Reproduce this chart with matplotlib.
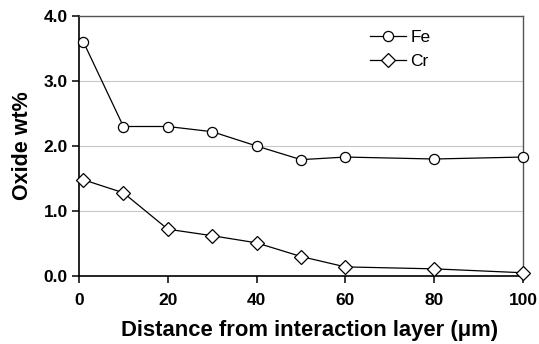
import matplotlib
matplotlib.use("Agg")
import matplotlib.pyplot as plt
from matplotlib.ticker import FormatStrFormatter

plt.rcParams['font.family'] = ['Liberation Sans', 'DejaVu Sans']

# data
distance = [1, 10, 20, 30, 40, 50, 60, 80, 100]
fe_wt = [3.60, 2.30, 2.30, 2.22, 2.00, 1.79, 1.83, 1.80, 1.83]
cr_wt = [1.48, 1.28, 0.72, 0.62, 0.51, 0.30, 0.14, 0.11, 0.05]
x_ticks = [0, 20, 40, 60, 80, 100]
y_ticks = [0.0, 1.0, 2.0, 3.0, 4.0]

fig = plt.figure(figsize=(5.39, 3.44), dpi=100)
ax = fig.add_axes([79/539, 1-276/344, (523-79)/539, (276-16)/344])

ax.plot(distance, fe_wt, color='black', lw=0.9, marker='o', ms=7.3,
        mfc='white', mec='black', mew=0.9, label='Fe', zorder=3,
        clip_on=False)
ax.plot(distance, cr_wt, color='black', lw=0.9, marker='D', ms=7.0,
        mfc='white', mec='black', mew=0.9, label='Cr', zorder=3,
        clip_on=False)

ax.set_xlim(0, 100)
ax.set_ylim(0, 4)
ax.set_xticks(x_ticks)
ax.set_yticks(y_ticks)
ax.yaxis.set_major_formatter(FormatStrFormatter('%.1f'))
ax.grid(axis='y', color='#c8c8c8', lw=0.8)
ax.set_axisbelow(True)

for s in ['left', 'bottom']:
    ax.spines[s].set_linewidth(1.2)
    ax.spines[s].set_color('black')
for s in ['top', 'right']:
    ax.spines[s].set_linewidth(1.0)
    ax.spines[s].set_color('#555555')

ax.tick_params(axis='both', direction='out', length=5, width=1.1,
               labelsize=12.5, pad=3)
ax.tick_params(axis='x', pad=7.5)
for lab in ax.get_xticklabels() + ax.get_yticklabels():
    lab.set_fontweight('bold')

ax.set_xlabel('Distance from interaction layer (μm)', fontsize=15.8,
              fontweight='bold', labelpad=8.5)
ax.xaxis.label.set_x(0.52)  # label sits a bit right of centre in the original
ax.set_ylabel('Oxide wt%', fontsize=15.5, fontweight='bold', labelpad=8)

ax.legend(loc='upper left', bbox_to_anchor=(0.655, 0.946), frameon=False,
          fontsize=12.5, handlelength=2.1, handletextpad=0.25,
          labelspacing=0.52, borderaxespad=0, borderpad=0)

fig.savefig('out.png', dpi=100)
